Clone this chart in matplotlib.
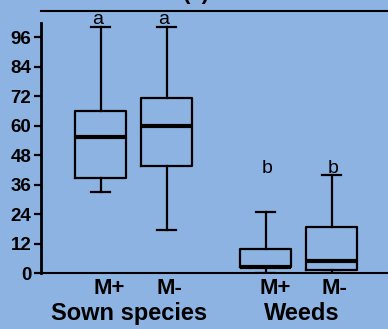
import matplotlib
matplotlib.use("Agg")
import matplotlib.pyplot as plt

plt.rcParams['font.family'] = ['Liberation Sans', 'DejaVu Sans']

# Datos (cuartiles y bigotes)
grupos = ["M+", "M-", "M+", "M-"]
posiciones = [1, 2, 3.5, 4.5]
bigote_sup = [100, 100, 25, 40]
q3 = [66, 71.3, 10, 19]
mediana = [55.3, 60, 2.8, 5.1]
q1 = [38.9, 43.8, 2.5, 1.5]
bigote_inf = [32.9, 17.5, 0, 0]
letras = ["a", "a", "b", "b"]
altura_letras = [101.5, 101.5, 41, 41]
yticks = [0, 12, 24, 36, 48, 60, 72, 84, 96]

fondo = "#8db3e2"
fig = plt.figure(figsize=(3.88, 3.29), dpi=100, facecolor=fondo)
ax = fig.add_axes([0.1057, 0.169, 0.8943, 0.7985], facecolor=fondo)

stats = []
for i in range(len(grupos)):
    stats.append({"whislo": bigote_inf[i], "q1": q1[i], "med": mediana[i],
                  "q3": q3[i], "whishi": bigote_sup[i], "fliers": []})

ax.bxp(stats, positions=posiciones, widths=0.76, showfliers=False,
       boxprops=dict(color="black", linewidth=1.6),
       medianprops=dict(color="black", linewidth=3),
       whiskerprops=dict(color="black", linewidth=1.6),
       capprops=dict(color="black", linewidth=1.6),
       capwidths=0.3, manage_ticks=False)

for x, t, y in zip(posiciones, letras, altura_letras):
    ax.text(x + (0.02 if t == "b" else -0.05), y, t, ha="center", va="baseline",
            fontsize=14)

ax.set_xlim(0.098, 5.356)
ax.set_ylim(0, 106.8)
ax.set_yticks(yticks)
ax.set_yticklabels([str(v) for v in yticks], fontsize=13.5, fontweight="bold")
ax.tick_params(axis="y", direction="out", length=5, width=1.6, pad=2)

ax.set_xticks([1.128, 2.042, 3.654, 4.542])
ax.set_xticklabels(grupos, fontsize=16, fontweight="bold")
ax.tick_params(axis="x", length=0, pad=3)

ax.text(1.439, -0.1776, "Sown species", transform=ax.get_xaxis_transform(),
        ha="center", va="baseline", fontsize=17, fontweight="bold")
ax.text(4.048, -0.1776, "Weeds", transform=ax.get_xaxis_transform(),
        ha="center", va="baseline", fontsize=17, fontweight="bold")

ax.spines["right"].set_visible(False)
ax.spines["left"].set_linewidth(2)
ax.spines["left"].set_bounds(0, 101.8)
ax.spines["top"].set_linewidth(1.5)
ax.spines["bottom"].set_linewidth(1.5)

fig.text(196 / 388, 1.003, "(a)", ha="center", va="baseline",
         fontsize=16, fontweight="bold")

fig.savefig("out.png", dpi=100, facecolor=fondo)
